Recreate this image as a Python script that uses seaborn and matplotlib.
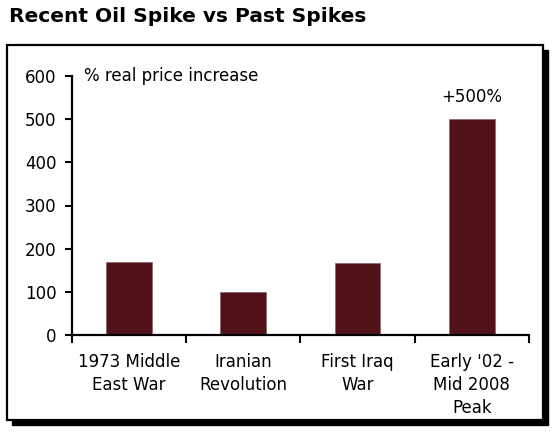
import matplotlib
matplotlib.use("Agg")
import matplotlib.pyplot as plt
from matplotlib.patches import Rectangle
import seaborn as sns
import pandas as pd

categories = ["1973 Middle\nEast War", "Iranian\nRevolution", "First Iraq\nWar", "Early '02 -\nMid 2008\nPeak"]
values = [170, 100, 167, 500]
y_ticks = [0, 100, 200, 300, 400, 500, 600]
title = "Recent Oil Spike vs Past Spikes"
y_label = "% real price increase"
peak_label = "+500%"

sns.set_style("white")
plt.rcParams['font.family'] = ['DejaVu Sans']
plt.rcParams['text.color'] = 'black'
plt.rcParams['xtick.color'] = 'black'
plt.rcParams['ytick.color'] = 'black'

W, H = 554, 432
fig = plt.figure(figsize=(W / 100, H / 100), dpi=100)

def fx(px):
    return px / W

def fy(py):
    return 1 - py / H

# framed box with drop shadow
shadow = Rectangle((fx(12), fy(425)), fx(536), 375 / H, transform=fig.transFigure,
                   facecolor="black", edgecolor="black", zorder=-2)
frame = Rectangle((fx(7), fy(420)), fx(536), 375 / H, transform=fig.transFigure,
                  facecolor="white", edgecolor="black", linewidth=1.6, zorder=-1)
fig.add_artist(shadow)
fig.add_artist(frame)

fig.text(fx(9), fy(16), title, fontsize=14.5, fontweight="bold", ha="left", va="center", color="black")

ax = fig.add_axes([fx(71.7), fy(335), (529 - 71.7) / W, (335 - 76) / H])
ax.patch.set_visible(False)

df = pd.DataFrame({"category": categories, "value": values})
sns.barplot(data=df, x="category", y="value", color="#501119", width=0.4,
            edgecolor="#8a6a6e", linewidth=0.6, ax=ax, saturation=1)

ax.set_xlim(-0.5, len(categories) - 0.5)
ax.set_ylim(0, 600)
ax.set_yticks(y_ticks)
ax.set_xlabel("")
ax.set_ylabel("")

for s in ["top", "right"]:
    ax.spines[s].set_visible(False)
for s in ["left", "bottom"]:
    ax.spines[s].set_linewidth(1.6)
    ax.spines[s].set_color("black")

ax.tick_params(axis="y", direction="out", length=5, width=1.5, labelsize=12, pad=6, left=True, colors="black")
ax.tick_params(axis="x", which="major", length=0, labelsize=12, pad=13, colors="black")
ax.set_xticks([i - 0.5 for i in range(len(categories) + 1)], minor=True)
ax.tick_params(axis="x", which="minor", direction="out", length=6, width=1.5, bottom=True, colors="black")
for lbl in ax.get_xticklabels():
    lbl.set_linespacing(1.35)
    lbl.set_horizontalalignment("center")

ax.text(0.027, 600, y_label, transform=ax.get_yaxis_transform(), fontsize=12, ha="left", va="center", color="black")
ax.annotate(peak_label, xy=(3, values[3]), xytext=(0, 16), textcoords="offset points",
            ha="center", va="center", fontsize=12, color="black")

fig.savefig("out.png", dpi=100)
